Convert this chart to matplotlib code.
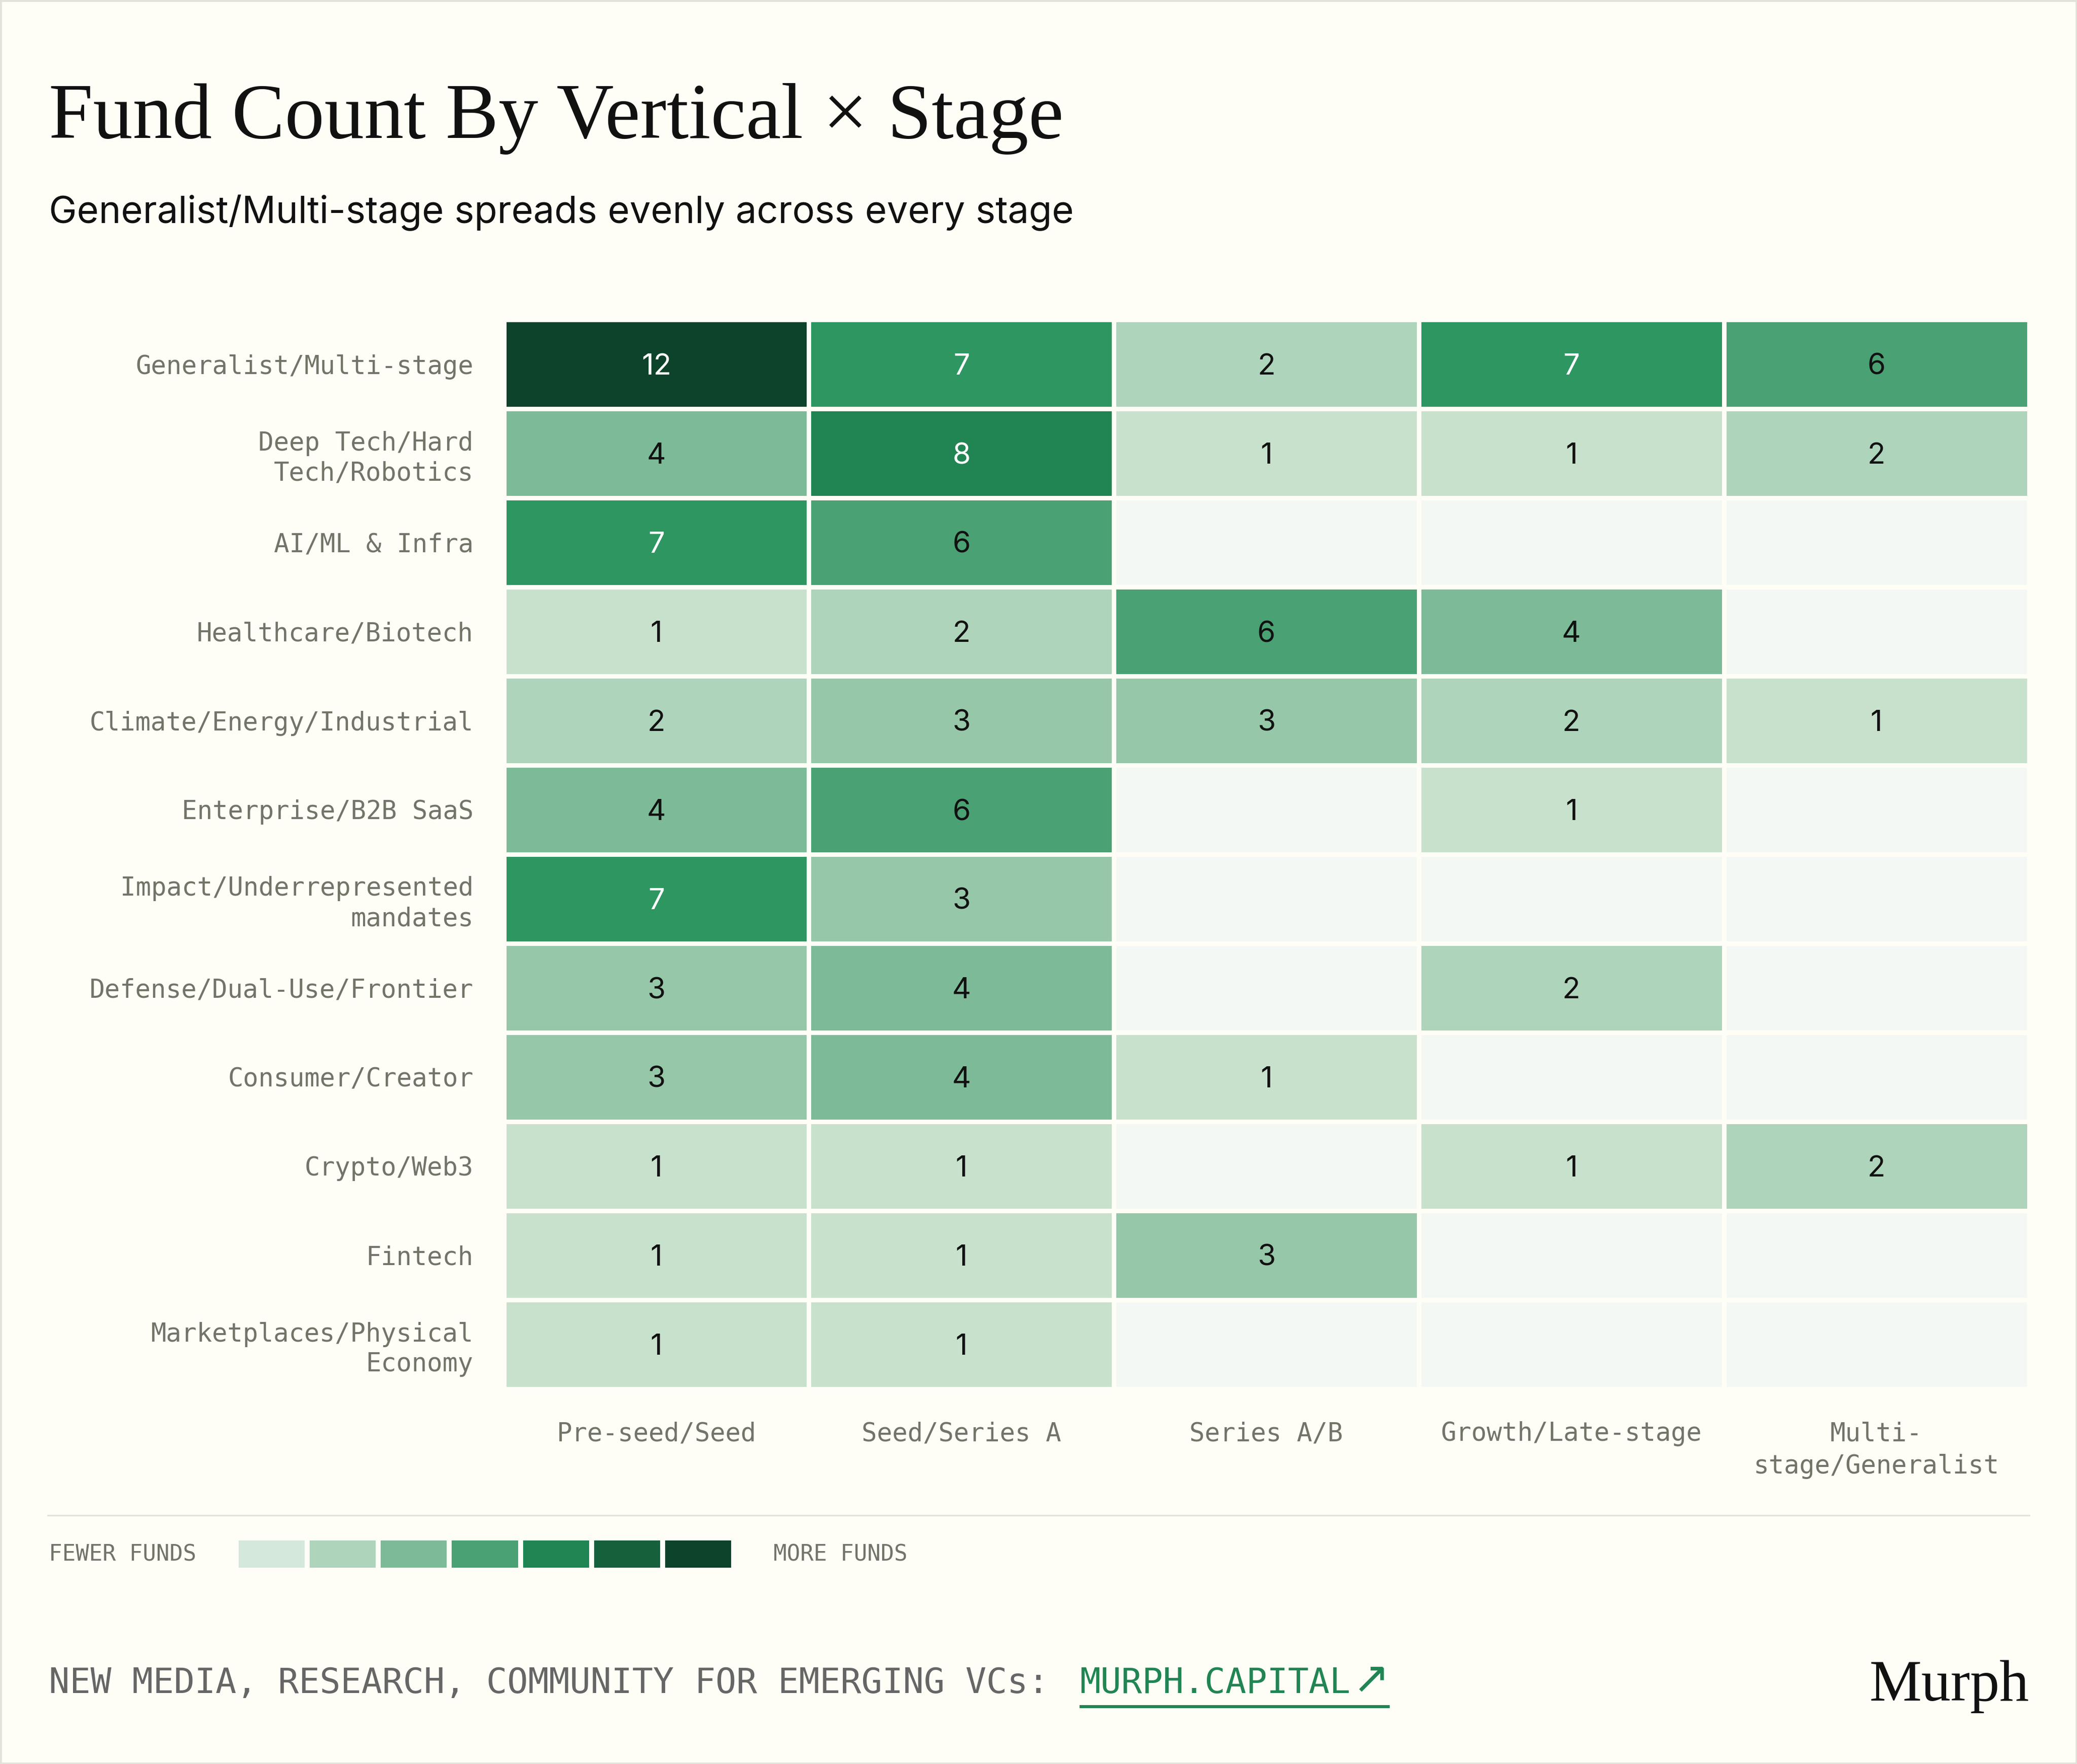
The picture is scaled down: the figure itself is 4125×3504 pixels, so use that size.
import numpy as np
import matplotlib
matplotlib.use("Agg")
import matplotlib.pyplot as plt
from matplotlib.colors import ListedColormap, BoundaryNorm
from matplotlib.lines import Line2D
from matplotlib.patches import Rectangle

# ---------------- data ----------------
verticals = [
    "Generalist/Multi-stage",
    "Deep Tech/Hard\nTech/Robotics",
    "AI/ML & Infra",
    "Healthcare/Biotech",
    "Climate/Energy/Industrial",
    "Enterprise/B2B SaaS",
    "Impact/Underrepresented\nmandates",
    "Defense/Dual-Use/Frontier",
    "Consumer/Creator",
    "Crypto/Web3",
    "Fintech",
    "Marketplaces/Physical\nEconomy",
]
stages = ["Pre-seed/Seed", "Seed/Series A", "Series A/B", "Growth/Late-stage",
          "Multi-\nstage/Generalist"]
counts_preseed = [12, 4, 7, 1, 2, 4, 7, 3, 3, 1, 1, 1]
counts_seed_a = [7, 8, 6, 2, 3, 6, 3, 4, 4, 1, 1, 1]
counts_series_ab = [2, 1, 0, 6, 3, 0, 0, 0, 1, 0, 3, 0]
counts_growth = [7, 1, 0, 4, 2, 1, 0, 2, 0, 1, 0, 0]
counts_multistage = [6, 2, 0, 0, 1, 0, 0, 0, 0, 2, 0, 0]

title = "Fund Count By Vertical \u00d7 Stage"
subtitle = "Generalist/Multi-stage spreads evenly across every stage"
legend_low = "FEWER FUNDS"
legend_high = "MORE FUNDS"
footer_text = "NEW MEDIA, RESEARCH, COMMUNITY FOR EMERGING VCs:"
footer_link = "MURPH.CAPITAL"
footer_arrow = "\u2197"
logo = "Murph"

# ---------------- style ----------------
W, H = 4125, 3504
BG = "#fefef6"
EMPTY = "#f4f8f5"
LABEL = "#727467"
GREEN = "#218553"
level_colors = ["#c8e1cd", "#aed4bc", "#96c7a9", "#7dbb98", "#63ae86",
                "#4aa173", "#2e9661", "#218553", "#17603c", "#0c432a"]
level_bounds = [0.5, 1.5, 2.5, 3.5, 4.5, 5.5, 6.5, 7.5, 9.5, 11.5, 13]
legend_colors = ["#d4e8dc", "#aed4bc", "#7dbb98", "#4aa173", "#218553",
                 "#17603c", "#0c432a"]
MONO = ["DejaVu Sans Mono", "DejaVu Sans"]
SANS = ["Inter", "DejaVu Sans"]
SERIF = ["Liberation Serif", "DejaVu Serif"]


def fx(px):
    return px / W


def fy(py):
    return 1 - py / H


fig = plt.figure(figsize=(W / 300, H / 300), dpi=300, facecolor=BG)

# frame
fig.add_artist(Rectangle((0, 0), 1, 1, transform=fig.transFigure, fill=False,
                         edgecolor="#e2e2da", linewidth=1.6))

# titles
fig.text(fx(97), fy(274), title, family=SERIF, fontsize=37.8, color="#111111",
         ha="left", va="baseline")
fig.text(fx(97), fy(443), subtitle, family=SANS, fontsize=17.9, color="#111111",
         ha="left", va="baseline")

# ---------------- heatmap ----------------
values = np.array([counts_preseed, counts_seed_a, counts_series_ab,
                   counts_growth, counts_multistage]).T
cmap = ListedColormap(level_colors)
cmap.set_bad(EMPTY)
norm = BoundaryNorm(level_bounds, cmap.N)

half = 4.5
ax = fig.add_axes([fx(1005 - half), fy(2754 + half),
                   (4025 - 1005 + 2 * half) / W, (2754 - 639 + 2 * half) / H])
ax.set_facecolor(BG)
ax.pcolormesh(np.ma.masked_equal(values, 0), cmap=cmap, norm=norm,
              edgecolors=BG, linewidth=9 * 72 / 300)
ax.set_xlim(0, values.shape[1])
ax.set_ylim(values.shape[0], 0)
for i in range(values.shape[0]):
    for j in range(values.shape[1]):
        v = values[i, j]
        if v > 0:
            ax.text(j + 0.5, i + 0.5, str(v), ha="center", va="center_baseline",
                    family=SANS, fontsize=14, color="white" if v >= 7 else "#111111")
ax.set_yticks(np.arange(len(verticals)) + 0.5)
ax.set_yticklabels(verticals, family=MONO, fontsize=12.2, color=LABEL,
                   linespacing=1.25)
ax.set_xticks(np.arange(len(stages)) + 0.5)
ax.set_xticklabels(stages, family=MONO, fontsize=12.2, color=LABEL,
                   linespacing=1.38)
ax.tick_params(axis="y", length=0, pad=14.5)
ax.tick_params(axis="x", length=0, pad=15.5)
for s in ax.spines.values():
    s.set_visible(False)

# separator
fig.add_artist(Line2D([fx(95), fx(4030)], [fy(3010), fy(3010)],
                      color="#e2e2d8", linewidth=0.75))

# ---------------- legend ----------------
lax = fig.add_axes([fx(474), fy(3114), (1452 - 474) / W, (3114 - 3060) / H])
lax.bar(np.arange(len(legend_colors)), 1, width=0.93, align="edge",
        color=legend_colors, linewidth=0)
lax.set_xlim(0, len(legend_colors) - 0.07)
lax.set_ylim(0, 1)
lax.axis("off")
fig.text(fx(97), fy(3088), legend_low, family=MONO, fontsize=10.6, color=LABEL,
         ha="left", va="center")
fig.text(fx(1536), fy(3088), legend_high, family=MONO, fontsize=10.6,
         color=LABEL, ha="left", va="center")

# ---------------- footer ----------------
fig.text(fx(97), fy(3363), footer_text, family=MONO, fontsize=16.5,
         color="#666666", ha="left", va="baseline")
fig.text(fx(2144), fy(3363), footer_link, family=MONO, fontsize=16.5,
         color=GREEN, ha="left", va="baseline")
fig.text(fx(2760), fy(3363), footer_arrow, family=["DejaVu Sans"], fontsize=21,
         color=GREEN, ha="right", va="baseline")
fig.add_artist(Line2D([fx(2144), fx(2760)], [fy(3390), fy(3390)],
                      color=GREEN, linewidth=1.45, solid_capstyle="butt"))
fig.text(fx(4030), fy(3378), logo, family=SERIF, fontsize=28, color="#111111",
         ha="right", va="baseline")

fig.savefig("out.png", dpi=300, facecolor=BG)
